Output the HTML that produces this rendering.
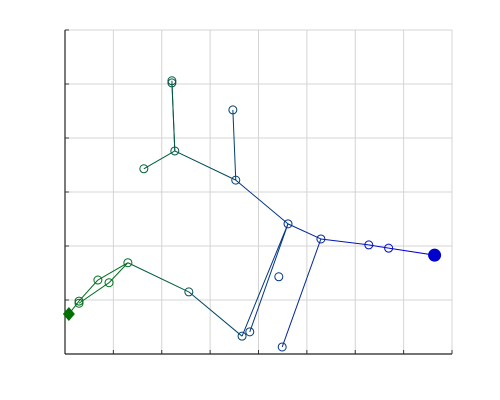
<!DOCTYPE html>
<html><head><meta charset="utf-8"><style>
html,body{margin:0;padding:0;background:#fff;width:500px;height:400px;overflow:hidden;font-family:"Liberation Sans",sans-serif}
</style></head><body>
<svg id="chart" width="500" height="400" xmlns="http://www.w3.org/2000/svg"></svg>
<script>
// data coordinates (x 0..8, y 0..6)
const nodeX = [7.64, 6.69, 6.28, 5.29, 4.61, 3.53, 3.47, 2.27, 2.21, 2.21, 1.63, 4.49, 4.42, 3.82, 3.66, 2.56, 1.30, 0.91, 0.68, 0.29, 0.29, 0.08];
const nodeY = [1.83, 1.96, 2.02, 2.13, 2.41, 3.22, 4.52, 3.76, 5.06, 5.02, 3.43, 0.13, 1.43, 0.41, 0.33, 1.15, 1.69, 1.32, 1.37, 0.98, 0.94, 0.74];
const edgeFrom = [0,1,2,3,4,5,7,7,7,3,4,4,14,15,16,16,17,18,19,5];
const edgeTo   = [1,2,3,4,5,7,8,9,10,11,13,14,15,16,17,18,20,19,21,6];
const xTicks = [0,1,2,3,4,5,6,7,8];
const yTicks = [0,1,2,3,4,5,6];

const svg = document.getElementById('chart');
const NS = 'http://www.w3.org/2000/svg';
const L=65,R=452,T=30,B=354;
const sx = v => L + v*(R-L)/8;
const sy = v => B - v*(B-T)/6;
function col(x){const t=Math.min(1,Math.max(0,(x-1)/6));const g=Math.round(110*(1-t)),b=Math.round(30+190*t);return `rgb(0,${g},${b})`;}
function mk(tag,attrs){const e=document.createElementNS(NS,tag);for(const k in attrs)e.setAttribute(k,attrs[k]);svg.appendChild(e);return e;}

xTicks.forEach(v=>{
  const g=mk('line',{x1:sx(v),x2:sx(v),y1:T,y2:B,stroke:'#d4d4d4','stroke-width':1});
  
  
  const t=mk('line',{x1:sx(v),x2:sx(v),y1:B,y2:B-4,stroke:'#333','stroke-width':1});
  
  
});
yTicks.forEach(v=>{
  const g=mk('line',{x1:L,x2:R,y1:sy(v),y2:sy(v),stroke:'#d4d4d4','stroke-width':1});
  
  
  const t=mk('line',{x1:L,x2:L+4,y1:sy(v),y2:sy(v),stroke:'#333','stroke-width':1});
  
  
});
const xa=mk('line',{x1:L,x2:R,y1:B,y2:B,stroke:'#222','stroke-width':1.2});


const ya=mk('line',{x1:L,x2:L,y1:T,y2:B,stroke:'#222','stroke-width':1.2});



edgeFrom.forEach((f,i)=>{
  const t=edgeTo[i];
  const e=mk('line',{x1:sx(nodeX[f]),y1:sy(nodeY[f]),x2:sx(nodeX[t]),y2:sy(nodeY[t]),stroke:col((nodeX[f]+nodeX[t])/2),'stroke-width':1});
  
  
});
nodeX.forEach((x,i)=>{
  if(i===0){
    const c=mk('circle',{cx:sx(x),cy:sy(nodeY[i]),r:6.5,fill:'#0000cc'});
    
    
  } else if(i===nodeX.length-1){
    const cx=sx(x),cy=sy(nodeY[i]);
    const p=mk('polygon',{points:`${cx},${cy-7} ${cx+6},${cy} ${cx},${cy+7} ${cx-6},${cy}`,fill:'#007000'});
    
    
  } else {
    const c=mk('circle',{cx:sx(x),cy:sy(nodeY[i]),r:4,fill:'none',stroke:col(x),'stroke-width':1});
    
    
  }
});
</script>
</body></html>
